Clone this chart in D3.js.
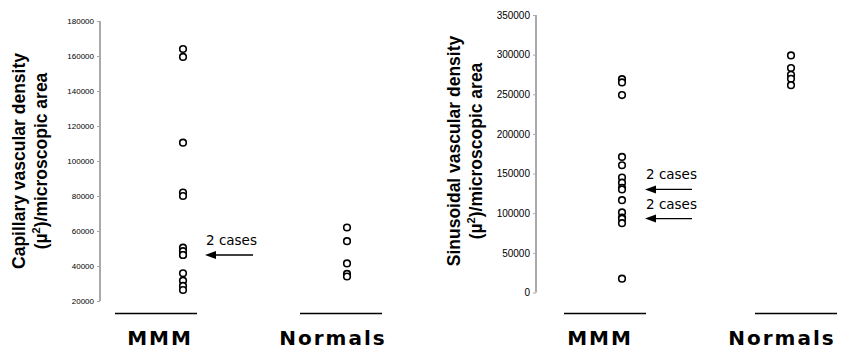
<!DOCTYPE html>
<html>
<head>
<meta charset="utf-8">
<script src="https://cdn.jsdelivr.net/npm/d3@7"></script>
<style>
  body { margin: 0; background: #fff; }
  .tick text { fill: #000; }
  .axis path, .axis line { stroke: #aaa; }
  .ytitle { font-family: "Liberation Sans", Arial, sans-serif; font-weight: bold; font-size: 17.5px; }
  .cat { font-family: "DejaVu Sans", Verdana, sans-serif; font-weight: bold; font-size: 20px; letter-spacing: 2px; }
  .note { font-family: "DejaVu Sans", Verdana, sans-serif; font-size: 13.5px; }
</style>
</head>
<body>
<svg id="chart" width="853" height="351"></svg>
<script>
// groups on each panel
var categories = ["MMM", "Normals"];

// capillary vascular density (left panel)
var capillaryMMM = [164000, 159500, 110500, 82000, 80000, 50500, 48500, 46300, 46300, 35800, 31600, 28600, 26300];
var capillaryNormals = [62000, 54200, 41500, 35500, 34000];
var capillaryTicks = [20000, 40000, 60000, 80000, 100000, 120000, 140000, 160000, 180000];
var capillaryNotes = [46300];

// sinusoidal vascular density (right panel)
var sinusoidalMMM = [269000, 265000, 249000, 171000, 160500, 145000, 138500, 132000, 130000, 116500, 101000, 94500, 93000, 87500, 17500];
var sinusoidalNormals = [299000, 283000, 274500, 269500, 261500];
var sinusoidalTicks = [0, 50000, 100000, 150000, 200000, 250000, 300000, 350000];
var sinusoidalNotes = [130000, 93200];

var svg = d3.select("#chart");

function drawPanel(p) {
  var g = svg.append("g");

  var y = d3.scaleLinear().domain(p.domain).range(p.yRange);
  var xLabel = d3.scalePoint().domain(categories).range(p.labelX);
  var xPoint = d3.scalePoint().domain(categories).range(p.pointX);
  var xBase = d3.scalePoint().domain(categories).range(p.baseX);

  var axis = g.append("g")
    .attr("class", "axis")
    .attr("transform", "translate(" + p.axisX + ",0)")
    .call(d3.axisLeft(y).tickValues(p.ticks).tickSize(3).tickPadding(3).tickFormat(d3.format("d")));
  axis.select(".domain").attr("stroke-width", 2).attr("d", "M0," + y(p.domain[1]) + "V" + y(p.domain[0]));
  axis.selectAll("text")
    .style("font-family", "'Liberation Sans', Arial, sans-serif")
    .style("font-size", p.tickFont + "px");

  // y title, two lines
  var t = g.append("text")
    .attr("class", "ytitle")
    .attr("text-anchor", "middle")
    .attr("transform", "translate(" + p.titleX + "," + p.titleY + ") rotate(-90)");
  t.append("tspan").attr("x", 0).attr("dy", 0).text(p.title);
  var t2 = t.append("tspan").attr("x", 0).attr("dy", 22).text("(\u00b5");
  t.append("tspan").attr("font-size", "11px").attr("dy", -7).text("2");
  t.append("tspan").attr("dy", 7).text(")/microscopic area");

  // baselines under each group
  g.selectAll(".base")
    .data(categories)
    .enter().append("line")
    .attr("x1", function(d) { return xBase(d) - 41; })
    .attr("x2", function(d) { return xBase(d) + 41; })
    .attr("y1", 313.5).attr("y2", 313.5)
    .attr("stroke", "#000").attr("stroke-width", 1.5);

  g.selectAll(".cat")
    .data(categories)
    .enter().append("text")
    .attr("class", "cat")
    .attr("x", function(d) { return xLabel(d); })
    .attr("y", 345)
    .attr("text-anchor", "middle")
    .text(function(d) { return d; });

  var pts = [];
  p.values.forEach(function(vals, i) {
    vals.forEach(function(v) { pts.push({cat: categories[i], v: v}); });
  });

  g.selectAll("circle")
    .data(pts)
    .enter().append("circle")
    .attr("cx", function(d) { return xPoint(d.cat); })
    .attr("cy", function(d) { return y(d.v); })
    .attr("r", 3.3)
    .attr("fill", "#fff")
    .attr("stroke", "#000")
    .attr("stroke-width", 1.6);

  // "2 cases" arrows
  var notes = g.selectAll(".note")
    .data(p.notes)
    .enter().append("g");
  notes.append("line")
    .attr("x1", p.arrowX[1]).attr("x2", p.arrowX[0] + 8)
    .attr("y1", function(d) { return y(d); })
    .attr("y2", function(d) { return y(d); })
    .attr("stroke", "#000").attr("stroke-width", 1.3);
  notes.append("path")
    .attr("d", function(d) {
      var yy = y(d);
      return "M" + p.arrowX[0] + "," + yy + "L" + (p.arrowX[0] + 11) + "," + (yy - 4) + "L" + (p.arrowX[0] + 11) + "," + (yy + 4) + "Z";
    })
    .attr("fill", "#000");
  notes.append("text")
    .attr("class", "note")
    .attr("x", p.arrowX[0] + 1)
    .attr("y", function(d) { return y(d) - 10; })
    .text("2 cases");
}

drawPanel({
  domain: [20000, 180000], yRange: [301, 21], ticks: capillaryTicks, axisX: 100, tickFont: 8,
  labelX: [160, 333], pointX: [183, 347], baseX: [156, 341],
  title: "Capillary vascular density", titleX: 25, titleY: 161,
  values: [capillaryMMM, capillaryNormals], notes: capillaryNotes, arrowX: [205, 253]
});

drawPanel({
  domain: [0, 350000], yRange: [292.5, 15], ticks: sinusoidalTicks, axisX: 536, tickFont: 10,
  labelX: [600, 782], pointX: [622, 791], baseX: [605, 796],
  title: "Sinusoidal vascular density", titleX: 460, titleY: 151,
  values: [sinusoidalMMM, sinusoidalNormals], notes: sinusoidalNotes, arrowX: [645, 692]
});
</script>
</body>
</html>
